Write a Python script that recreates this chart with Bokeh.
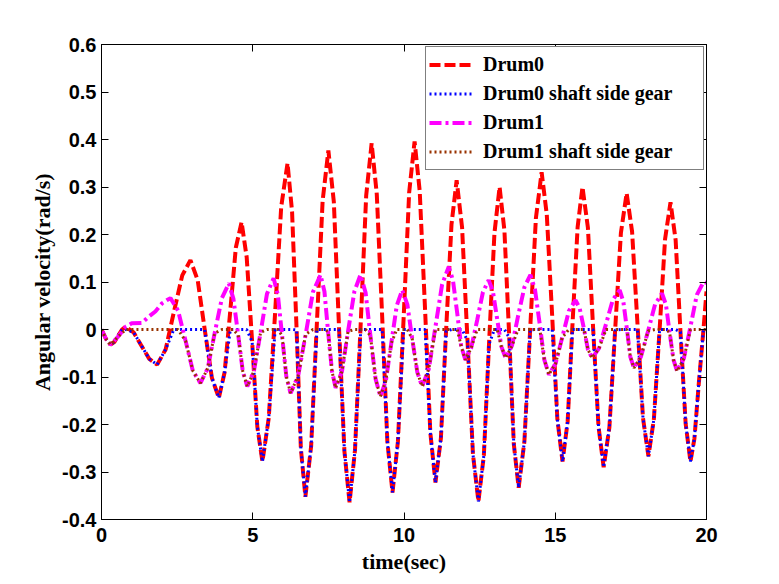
from bokeh.plotting import figure
from bokeh.models import Range1d, FixedTicker, LinearAxis, Legend, LegendItem
from bokeh.embed import file_html
from bokeh.resources import INLINE

# ---------------- data ----------------
t_drum0 = [
    0.0, 0.15, 0.3, 0.43, 0.55, 0.68,
    0.8, 1.06, 1.32, 1.58,
    1.84, 2.12, 2.39, 2.67,
    2.94, 3.18, 3.41, 3.65,
    3.88, 4.07, 4.26, 4.44,
    4.63, 4.80, 4.98, 5.15,
    5.32, 5.53, 5.74, 5.94,
    6.15, 6.30, 6.45, 6.59,
    6.74, 6.93, 7.12, 7.31,
    7.50, 7.68, 7.85, 8.03,
    8.20, 8.38, 8.57, 8.75,
    8.93, 9.10, 9.28, 9.45,
    9.62, 9.80, 9.99, 10.17,
    10.35, 10.52, 10.70, 10.87,
    11.04, 11.22, 11.39, 11.57,
    11.74, 11.92, 12.10, 12.28,
    12.46, 12.64, 12.81, 12.99,
    13.16, 13.32, 13.48, 13.63,
    13.79, 13.98, 14.17, 14.36,
    14.55, 14.72, 14.90, 15.07,
    15.24, 15.41, 15.57, 15.74,
    15.90, 16.08, 16.25, 16.43,
    16.60, 16.79, 16.98, 17.17,
    17.36, 17.54, 17.72, 17.90,
    18.08, 18.26, 18.45, 18.63,
    18.81, 18.98, 19.14, 19.31,
    19.47, 19.60, 19.75, 19.90, 20.0,
]
drum0 = [
    0.0, -0.020, -0.032, -0.026, -0.013, 0.000,
    0.006, -0.006, -0.034, -0.062,
    -0.074, -0.042, 0.036, 0.114,
    0.146, 0.104, 0.001, -0.102,
    -0.144, -0.090, 0.041, 0.172,
    0.226, 0.152, -0.026, -0.204,
    -0.278, -0.186, 0.036, 0.258,
    0.350, 0.248, -0.001, -0.250,
    -0.352, -0.246, 0.013, 0.271,
    0.377, 0.269, 0.007, -0.256,
    -0.364, -0.254, 0.014, 0.282,
    0.392, 0.285, 0.025, -0.236,
    -0.343, -0.235, 0.027, 0.288,
    0.396, 0.291, 0.037, -0.217,
    -0.322, -0.229, -0.004, 0.221,
    0.314, 0.215, -0.024, -0.263,
    -0.362, -0.265, -0.031, 0.203,
    0.300, 0.208, -0.017, -0.241,
    -0.333, -0.236, -0.001, 0.234,
    0.331, 0.242, 0.027, -0.189,
    -0.278, -0.194, 0.011, 0.216,
    0.300, 0.214, 0.005, -0.204,
    -0.290, -0.206, -0.001, 0.203,
    0.287, 0.206, 0.010, -0.186,
    -0.267, -0.189, 0.000, 0.190,
    0.268, 0.188, -0.005, -0.198,
    -0.278, -0.230, -0.110, 0.000, 0.080,
]
gear0 = [
    0.0, -0.020, -0.032, -0.026, -0.013, 0.000,
    0.000, -0.006, -0.034, -0.062,
    -0.074, -0.042, 0.0, 0.0,
    0.0, 0.0, 0.0, -0.102,
    -0.144, -0.090, 0.0, 0.0,
    0.0, 0.0, -0.026, -0.204,
    -0.278, -0.186, 0.0, 0.0,
    0.0, 0.0, -0.001, -0.250,
    -0.352, -0.246, 0.0, 0.0,
    0.0, 0.0, 0.0, -0.256,
    -0.364, -0.254, 0.0, 0.0,
    0.0, 0.0, 0.0, -0.236,
    -0.343, -0.235, 0.0, 0.0,
    0.0, 0.0, 0.0, -0.217,
    -0.322, -0.229, -0.004, 0.0,
    0.0, 0.0, -0.024, -0.263,
    -0.362, -0.265, -0.031, 0.0,
    0.0, 0.0, -0.017, -0.241,
    -0.333, -0.236, -0.001, 0.0,
    0.0, 0.0, 0.0, -0.189,
    -0.278, -0.194, 0.0, 0.0,
    0.0, 0.0, 0.0, -0.204,
    -0.290, -0.206, -0.001, 0.0,
    0.0, 0.0, 0.0, -0.186,
    -0.267, -0.189, 0.0, 0.0,
    0.0, 0.0, -0.005, -0.198,
    -0.278, -0.230, -0.110, 0.0, 0.0,
]

t_drum1 = [
    0.0, 0.15, 0.3, 0.55, 0.8, 1.0, 1.34, 1.56, 1.78, 2.0, 2.17, 2.28,
    2.53, 2.78, 3.02, 3.27,
    3.51, 3.74, 3.98, 4.21,
    4.36, 4.52, 4.67, 4.82,
    5.04, 5.26, 5.47, 5.69,
    5.83, 5.97, 6.11, 6.25,
    6.50, 6.75, 6.99, 7.24,
    7.37, 7.49, 7.62, 7.74,
    7.95, 8.15, 8.36, 8.56,
    8.73, 8.89, 9.06, 9.22,
    9.40, 9.58, 9.76, 9.94,
    10.11, 10.27, 10.44, 10.60,
    10.82, 11.04, 11.26, 11.48,
    11.62, 11.76, 11.89, 12.03,
    12.22, 12.42, 12.61, 12.80,
    12.94, 13.08, 13.22, 13.36,
    13.57, 13.77, 13.98, 14.18,
    14.33, 14.49, 14.64, 14.79,
    15.01, 15.23, 15.45, 15.67,
    15.81, 15.95, 16.08, 16.22,
    16.45, 16.68, 16.90, 17.13,
    17.25, 17.37, 17.48, 17.60,
    17.83, 18.07, 18.30, 18.53,
    18.66, 18.78, 18.91, 19.03,
    19.25, 19.47, 19.68, 19.90, 20.0,
]
drum1 = [
    0.0, -0.020, -0.032, -0.015, 0.006, 0.013, 0.014, 0.027, 0.038, 0.055, 0.062, 0.066,
    0.040, -0.024, -0.087, -0.113,
    -0.082, -0.008, 0.066, 0.097,
    0.065, -0.012, -0.088, -0.120,
    -0.087, -0.006, 0.075, 0.108,
    0.073, -0.013, -0.099, -0.134,
    -0.098, -0.010, 0.079, 0.115,
    0.080, -0.004, -0.088, -0.123,
    -0.088, -0.004, 0.080, 0.115,
    0.078, -0.013, -0.104, -0.141,
    -0.108, -0.029, 0.050, 0.083,
    0.053, -0.019, -0.090, -0.120,
    -0.083, 0.006, 0.095, 0.132,
    0.103, 0.034, -0.035, -0.064,
    -0.039, 0.020, 0.079, 0.104,
    0.080, 0.022, -0.036, -0.060,
    -0.034, 0.028, 0.089, 0.115,
    0.084, 0.010, -0.064, -0.095,
    -0.072, -0.017, 0.039, 0.062,
    0.044, 0.001, -0.042, -0.060,
    -0.039, 0.012, 0.062, 0.083,
    0.059, 0.001, -0.057, -0.081,
    -0.058, -0.003, 0.053, 0.076,
    0.052, -0.006, -0.064, -0.088,
    -0.061, 0.006, 0.073, 0.100, 0.098,
]
gear1 = [
    0.0, -0.020, -0.032, -0.015, 0.0, 0.0, 0.0, 0.0, 0.0, 0.0, 0.0, 0.0,
    0.0, -0.024, -0.087, -0.113,
    -0.082, -0.008, 0.0, 0.0,
    0.0, -0.012, -0.088, -0.120,
    -0.087, -0.006, 0.0, 0.0,
    0.0, -0.013, -0.099, -0.134,
    -0.098, -0.010, 0.0, 0.0,
    0.0, -0.004, -0.088, -0.123,
    -0.088, -0.004, 0.0, 0.0,
    0.0, -0.013, -0.104, -0.141,
    -0.108, -0.029, 0.0, 0.0,
    0.0, -0.019, -0.090, -0.120,
    -0.083, 0.0, 0.0, 0.0,
    0.0, 0.0, -0.035, -0.064,
    -0.039, 0.0, 0.0, 0.0,
    0.0, 0.0, -0.036, -0.060,
    -0.034, 0.0, 0.0, 0.0,
    0.0, 0.0, -0.064, -0.095,
    -0.072, -0.017, 0.0, 0.0,
    0.0, 0.0, -0.042, -0.060,
    -0.039, 0.0, 0.0, 0.0,
    0.0, 0.0, -0.057, -0.081,
    -0.058, -0.003, 0.0, 0.0,
    0.0, -0.006, -0.064, -0.088,
    -0.061, 0.0, 0.0, 0.0, 0.0,
]

x_ticks = [0, 5, 10, 15, 20]
x_tick_labels = ["0", "5", "10", "15", "20"]
y_ticks = [-0.4, -0.3, -0.2, -0.1, 0, 0.1, 0.2, 0.3, 0.4, 0.5, 0.6]
y_tick_labels = ["-0.4", "-0.3", "-0.2", "-0.1", "0", "0.1", "0.2", "0.3", "0.4", "0.5", "0.6"]

series_names = ["Drum0", "Drum0 shaft side gear", "Drum1", "Drum1 shaft side gear"]

# ---------------- figure ----------------
p = figure(width=771, height=576, output_backend="svg", toolbar_location=None,
           x_range=Range1d(0, 20), y_range=Range1d(-0.4, 0.6),
           min_border_left=101, min_border_right=65, min_border_top=44, min_border_bottom=56)
p.background_fill_color = "white"
p.border_fill_color = "white"
p.outline_line_color = "black"
p.outline_line_width = 1
p.xgrid.visible = False
p.ygrid.visible = False

r0 = p.line(t_drum0, drum0, line_color="#ff0000", line_width=4, line_dash="11 4")
r1 = p.line(t_drum0, gear0, line_color="#0000ff", line_width=3, line_dash="2 3")
r2 = p.line(t_drum1, drum1, line_color="#ff00ff", line_width=4, line_dash="12 4 3 4")
r3 = p.line(t_drum1, gear1, line_color="#993300", line_width=3, line_dash="2 3")

tick_font = "Liberation Sans"
label_font = "Liberation Serif"

def style_axis(ax, ticks, labels, show_labels=True, standoff=5):
    ax.ticker = FixedTicker(ticks=ticks)
    if show_labels:
        ax.major_label_overrides = {tk: lb for tk, lb in zip(ticks, labels)}
    else:
        ax.major_label_overrides = {tk: "" for tk in ticks}
    ax.major_tick_in = 7
    ax.major_tick_out = 0
    ax.minor_tick_line_color = None
    ax.axis_line_color = "black"
    ax.major_tick_line_color = "black"
    ax.major_label_text_font = tick_font
    ax.major_label_text_font_style = "bold"
    ax.major_label_text_color = "black"
    ax.major_label_text_font_size = "20px"
    ax.major_label_standoff = standoff

style_axis(p.xaxis[0], x_ticks, x_tick_labels, standoff=8)
style_axis(p.yaxis[0], y_ticks, y_tick_labels, standoff=5)
p.xaxis.axis_label = "time(sec)"
p.yaxis.axis_label = "Angular velocity(rad/s)"
for ax in (p.xaxis[0], p.yaxis[0]):
    ax.axis_label_text_font = label_font
    ax.axis_label_text_font_style = "bold"
    ax.axis_label_text_font_size = "22px"
    ax.axis_label_text_color = "black"
    ax.axis_label_standoff = 4

top_ax = LinearAxis()
style_axis(top_ax, x_ticks, x_tick_labels, show_labels=False)
p.add_layout(top_ax, "above")
right_ax = LinearAxis()
style_axis(right_ax, y_ticks, y_tick_labels, show_labels=False)
p.add_layout(right_ax, "right")

legend = Legend(items=[LegendItem(label=n, renderers=[r]) for n, r in zip(series_names, [r0, r1, r2, r3])],
                location="top_right")
legend.margin = 2
legend.padding = 3
legend.spacing = 0
legend.glyph_width = 45
legend.glyph_height = 29
legend.label_height = 29
legend.label_width = 217
legend.label_standoff = 9
legend.label_text_font = label_font
legend.label_text_font_style = "bold"
legend.label_text_font_size = "20px"
legend.label_text_color = "black"
legend.border_line_color = "black"
legend.border_line_width = 1
legend.background_fill_color = "white"
legend.background_fill_alpha = 1.0
p.add_layout(legend, "center")

open("out.html", "w").write(file_html(p, INLINE))
